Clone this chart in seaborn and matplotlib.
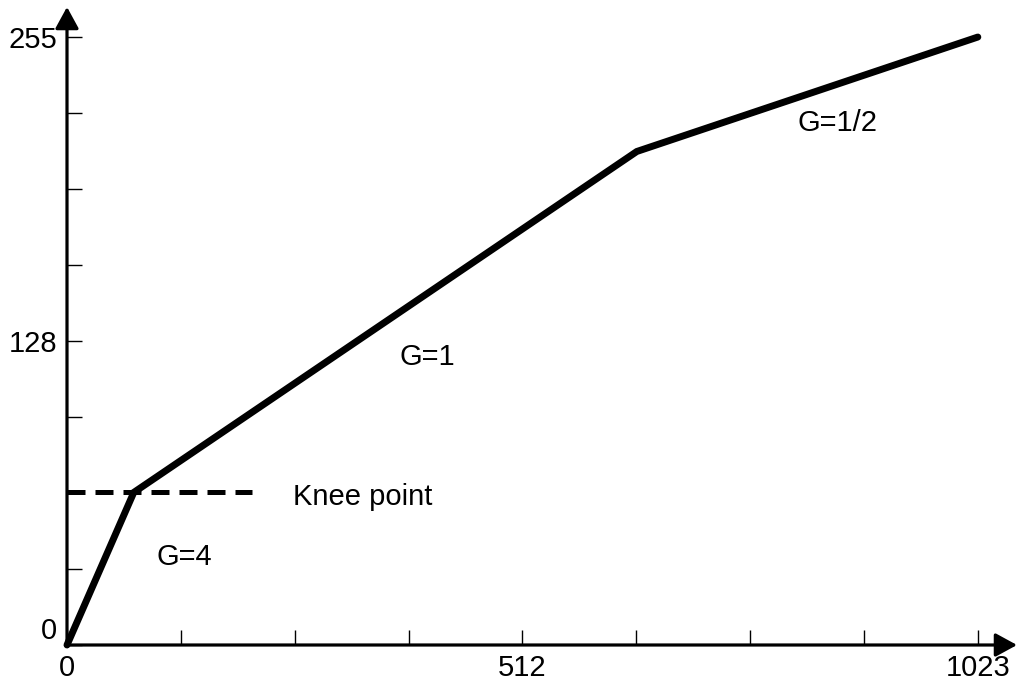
import numpy as np
import pandas as pd
import matplotlib
matplotlib.use("Agg")
import matplotlib.pyplot as plt
import seaborn as sns

# Knee curve data (input code -> output code)
input_vals = [0, 75, 640, 1023]
output_vals = [0, 64, 207, 255]

# Knee point marker (dashed)
knee_x = [0, 208]
knee_y = [64, 64]

# Tick setup
x_ticks = list(np.linspace(0, 1023, 9))
x_labels = ["0", "", "", "", "512", "", "", "", "1023"]
y_ticks = list(np.linspace(0, 255, 9))
y_labels = ["0", "", "", "", "128", "", "", "", "255"]

# Gain annotations
gain_labels = ["G=4", "G=1", "G=1/2", "Knee point"]
gain_x = [100, 374, 821, 254]
gain_y = [37, 121, 219, 62]

sns.set_style("white")
plt.rcParams["font.family"] = ["Liberation Sans", "DejaVu Sans"]

fig = plt.figure(figsize=(10.2, 6.83), dpi=100)
ax = fig.add_axes([67 / 1020, 38 / 683, 950 / 1020, 638 / 683])

curve = pd.DataFrame({"x": input_vals, "y": output_vals})
knee = pd.DataFrame({"x": knee_x, "y": knee_y})

sns.lineplot(data=curve, x="x", y="y", ax=ax, color="black", lw=5,
             sort=False, solid_joinstyle="miter", clip_on=False)
sns.lineplot(data=knee, x="x", y="y", ax=ax, color="black", lw=3.6,
             dashes=False, clip_on=False)
ax.lines[-1].set_dashes((3.6, 2.0))
ax.lines[-1].set_dash_capstyle("butt")

xmax, ymax = 1067, 267.6
ax.set_xlim(0, xmax)
ax.set_ylim(0, ymax)

for side in ["top", "right", "left", "bottom"]:
    ax.spines[side].set_visible(False)

# Axes with arrow heads
arrow = dict(arrowstyle="-|>,head_length=0.55,head_width=0.3", lw=2.3,
             color="black", mutation_scale=24, shrinkA=0, shrinkB=0)
ax.annotate("", xy=(xmax, 0), xytext=(0, 0), arrowprops=arrow,
            annotation_clip=False)
ax.annotate("", xy=(0, ymax), xytext=(0, 0), arrowprops=arrow,
            annotation_clip=False)

ax.set_xticks(x_ticks)
ax.set_xticklabels(x_labels)
ax.set_yticks(y_ticks)
ax.set_yticklabels(y_labels)
ax.tick_params(axis="both", direction="in", length=10.5, width=1,
               color="black", labelsize=21, labelcolor="black",
               bottom=True, left=True)
ax.tick_params(axis="x", pad=6.5)
ax.tick_params(axis="y", pad=7)
ax.get_yticklabels()[0].set_va("bottom")
ax.set_xlabel("")
ax.set_ylabel("")

for lab, gx, gy in zip(gain_labels, gain_x, gain_y):
    ax.text(gx, gy, lab, fontsize=21, ha="left", va="center", color="black")

fig.savefig("out.png", dpi=100)
